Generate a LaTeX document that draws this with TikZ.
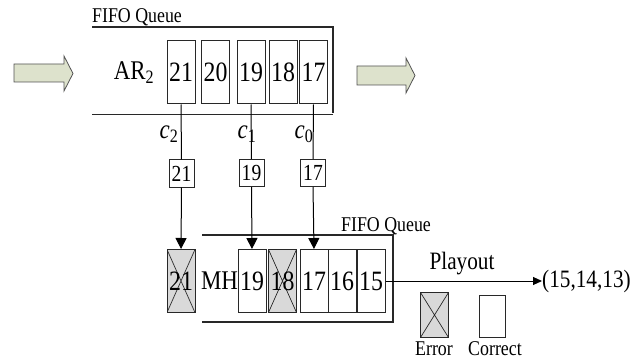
\documentclass[tikz,border=0pt]{standalone}
\usepackage{fontspec}
\setmainfont{Liberation Serif}[FakeStretch=0.85]
\usetikzlibrary{arrows.meta,shapes.arrows}

\definecolor{sage}{RGB}{221,226,204}
\definecolor{errgray}{RGB}{217,217,217}
\definecolor{edge}{RGB}{40,40,40}

\tikzset{
  pkt/.style={draw=edge, line width=1pt, minimum width=28pt, minimum height=63pt,
    inner sep=0pt, font=\fontsize{28}{28}\selectfont},
  pktbad/.style={pkt, fill=errgray, path picture={
    \draw[edge, line width=0.7pt] (path picture bounding box.north west) -- (path picture bounding box.south east)
      (path picture bounding box.north east) -- (path picture bounding box.south west);}},
  tag/.style={draw=edge, line width=1pt, minimum width=25pt, minimum height=27pt,
    inner sep=0pt, font=\fontsize{23}{23}\selectfont},
  queue/.style={draw=edge, line width=1.3pt},
  link/.style={draw=black, line width=1pt},
  feed/.style={link, -{Triangle[length=11pt,width=11pt]}},
  lbl/.style={inner sep=0pt, font=\fontsize{25}{25}\selectfont},
  small/.style={inner sep=0pt, font=\fontsize{21}{21}\selectfont},
}

\begin{document}
\begin{tikzpicture}[x=1pt,y=-1pt]
\useasboundingbox (0,0) rectangle (641,361);

% incoming / outgoing stream arrows
\fill[sage] (14,64) -- (64,64) -- (64,56) -- (73,73.5) -- (64,91) -- (64,82) -- (14,82) -- cycle;
\draw[edge!80, line width=0.8pt] (14,64) -- (64,64) -- (64,56) -- (73,73.5) -- (64,91) -- (64,82) -- (14,82) -- cycle;
\fill[sage] (357,66) -- (406,66) -- (406,58) -- (415,75.5) -- (406,93) -- (406,85) -- (357,85) -- cycle;
\draw[edge!80, line width=0.8pt] (357,66) -- (406,66) -- (406,58) -- (415,75.5) -- (406,93) -- (406,85) -- (357,85) -- cycle;

% upper FIFO queue (AR_2)
\node[small, anchor=west] (q1) at (92,17) {FIFO Queue};
\draw[queue] (92,27) -- (333,27) -- (333,113);
\draw[queue] (92,114.5) -- (333,114.5);
\node[lbl, font=\fontsize{27}{27}\selectfont] (ar) at (134,73) {AR\textsubscript{2}};

\node[pkt] (a21) at (181,72.5) {21};
\node[pkt] (a20) at (215.5,72.5) {20};
\node[pkt] (a19) at (251,72.5) {19};
\node[pkt] (a18) at (283,72.5) {18};
\node[pkt] (a17) at (313.5,72.5) {17};

% packet tags in transit
\node[tag] (t21) at (181.5,173.5) {21};
\node[tag] (t19) at (251.5,173) {19};
\node[tag] (t17) at (313,173) {17};

\node[lbl, font=\fontsize{27}{27}\selectfont] (c2) at (169,134) {\textit{c}\textsubscript{2}};
\node[lbl, font=\fontsize{27}{27}\selectfont] (c1) at (247,134) {\textit{c}\textsubscript{1}};
\node[lbl, font=\fontsize{27}{27}\selectfont] (c0) at (304,134) {\textit{c}\textsubscript{0}};

% lower FIFO queue (MH)
\node[small, anchor=west] (q2) at (341,226) {FIFO Queue};
\draw[queue] (202,235) -- (393,235) -- (393,322) -- (202,322);
\node[lbl, font=\fontsize{27}{27}\selectfont] (mh) at (219.5,281) {MH};

\node[pktbad] (b21) at (181,281) {21};
\node[pkt] (b19) at (252,281) {19};
\node[pktbad] (b18) at (282.5,281) {18};
\node[pkt] (b17) at (314,281) {17};
\node[pkt] (b16) at (342,281) {16};
\node[pkt] (b15) at (371,281) {15};

% links
\draw[link] (a21.south) -- (t21.north);
\draw[link] (a19.south) -- (t19.north);
\draw[link] (a17.south) -- (t17.north);
\draw[feed] (t21.south) -- (b21.north);
\draw[feed] (t19.south) -- (b19.north);
\draw[feed] (t17.south) -- (b17.north);

% playout
\node[lbl, anchor=west] (out) at (542,281) {(15,14,13)};
\draw[link, -{Triangle[length=9pt,width=8pt]}] (b15.east) -- (out.west);
\node[lbl] (play) at (462,264) {Playout};

% legend
\node[pktbad, minimum width=28pt, minimum height=45pt] (lerr) at (434.5,315) {};
\node[pkt, minimum width=26pt, minimum height=42pt] (lok) at (492,316) {};
\node[small] (terr) at (434,349) {Error};
\node[small] (tok) at (495,349) {Correct};
\end{tikzpicture}
\end{document}
